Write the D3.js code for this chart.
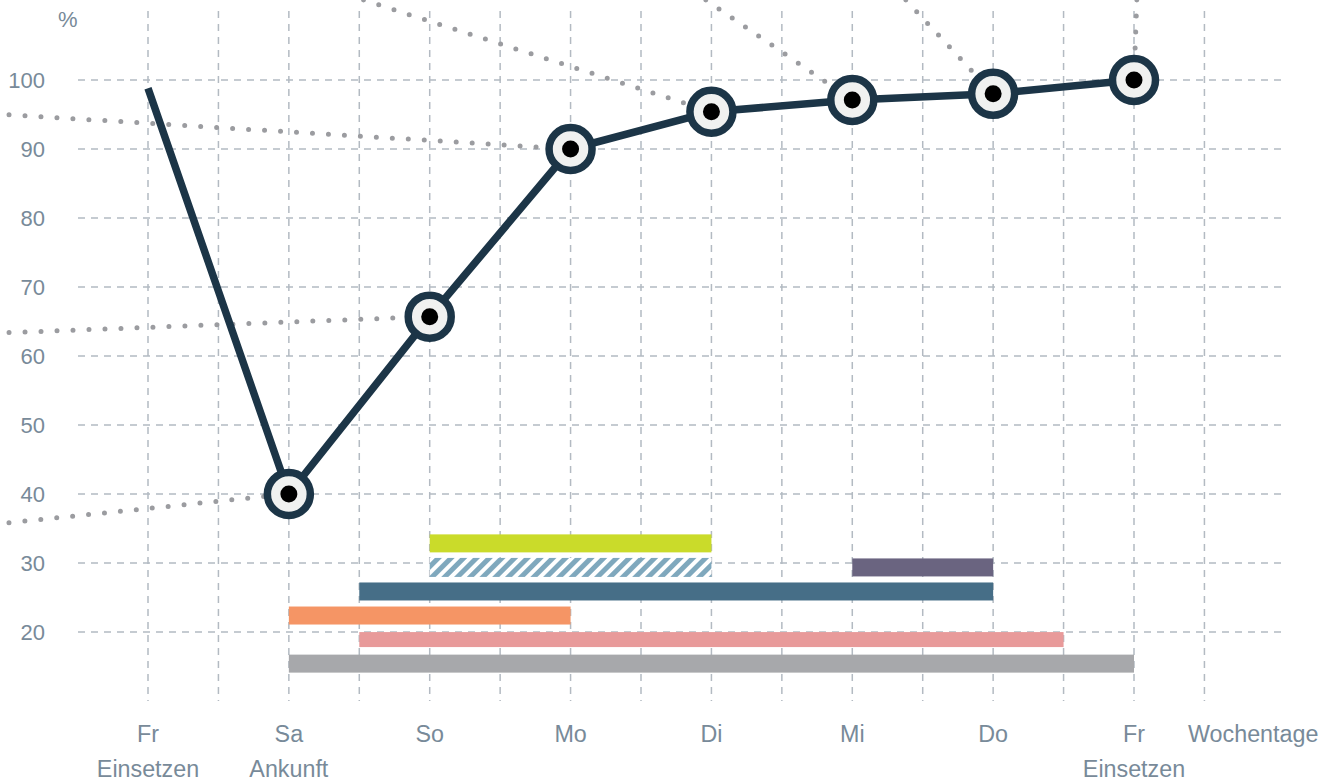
<!DOCTYPE html>
<html>
<head>
<meta charset="utf-8">
<script src="https://cdn.jsdelivr.net/npm/d3@7"></script>
<style>
    body { margin: 0; background: #fff; }
    text { font-family: "Liberation Sans", Arial, sans-serif; fill: #788a99; }
</style>
</head>
<body>
<script>
// days on the x axis and the percent reached on each day
const days = ["Fr", "Sa", "So", "Mo", "Di", "Mi", "Do", "Fr"];
const dayNotes = ["Einsetzen", "Ankunft", "", "", "", "", "", "Einsetzen"];
const percent = [98.8, 40, 65.7, 90, 95.4, 97.1, 98, 100];
const yTicks = [20, 30, 40, 50, 60, 70, 80, 90, 100];

// dotted trails that run into the markers (start day / start %, end at a marker)
const trailFromDay = [-1.1, -1.1, -1.1, 1.53, 3.96, 5.38, 7.02];
const trailFromPct = [35.6, 63.3, 95.1, 111.6, 111.6, 111.6, 111.6];
const trailToDay = [1, 2, 3, 4, 5, 6, 7];

// bars below the line (start day, end day, row)
const barStart = [2, 2, 5, 1.5, 1, 1.5, 1];
const barEnd = [4, 4, 6, 6, 3, 6.5, 7];
const barRow = [0, 1, 1, 2, 3, 4, 5];

document.addEventListener("DOMContentLoaded", () => {
    width = 1332;
    height = 781;

    svg = d3.select("body").append("svg").attr("width", width).attr("height", height);

    x = d3.scaleLinear().domain([0, 7]).range([148, 1134]);
    y = d3.scaleLinear().domain([10, 100]).range([701, 80]);
    row = d3.scaleBand().domain(d3.range(6)).range([534, 673]).paddingInner(0.22).paddingOuter(0);

    const gridColor = "#b3bac2";
    const barColors = ["#cadb2a", "url(#hatch)", "#6a6480", "#466e87", "#f59565", "#e89a9a", "#a7a8ab"];
    const barHeights = [18, 19, 18, 18, 18, 15, 18];

    // hatch pattern
    {
        let pat = svg.append("defs").append("pattern")
            .attr("id", "hatch")
            .attr("patternUnits", "userSpaceOnUse")
            .attr("width", 9)
            .attr("height", 9)
            .attr("patternTransform", "rotate(45)");
        pat.append("rect").attr("width", 9).attr("height", 9).attr("fill", "#fff");
        pat.append("rect").attr("width", 5).attr("height", 9).attr("fill", "#7fa8bd");
    }

    // grid
    {
        grid = svg.append("g").attr("class", "grid");
        grid.selectAll("line.h")
            .data(yTicks)
            .enter()
            .append("line")
            .attr("x1", 78)
            .attr("x2", 1284)
            .attr("y1", (d) => y(d))
            .attr("y2", (d) => y(d))
            .attr("stroke", gridColor)
            .attr("stroke-width", 1.5)
            .attr("stroke-dasharray", "7,6");
        grid.selectAll("line.v")
            .data(d3.range(0, 7.51, 0.5))
            .enter()
            .append("line")
            .attr("x1", (d) => x(d))
            .attr("x2", (d) => x(d))
            .attr("y1", 11)
            .attr("y2", 701)
            .attr("stroke", gridColor)
            .attr("stroke-width", 1.5)
            .attr("stroke-dasharray", "7,6");
    }

    // axis labels
    {
        let labels = svg.append("g").attr("class", "labels").attr("font-size", 22);
        labels.selectAll("text.y")
            .data(yTicks)
            .enter()
            .append("text")
            .attr("x", 45)
            .attr("y", (d) => y(d) + 8)
            .attr("text-anchor", "end")
            .text((d) => d);
        labels.append("text").attr("x", 58).attr("y", 27).text("%");

        let xl = labels.append("g").attr("font-size", 23.3);
        xl.selectAll("text.day")
            .data(days)
            .enter()
            .append("text")
            .attr("x", (d, i) => x(i))
            .attr("y", 742)
            .attr("text-anchor", "middle")
            .text((d) => d);
        xl.selectAll("text.note")
            .data(dayNotes)
            .enter()
            .append("text")
            .attr("x", (d, i) => x(i))
            .attr("y", 777)
            .attr("text-anchor", "middle")
            .text((d) => d);
        xl.append("text").attr("x", 1188).attr("y", 742).text("Wochentage");
    }

    // bars
    {
        svg.append("g").attr("class", "bars")
            .selectAll("rect")
            .data(barStart)
            .enter()
            .append("rect")
            .attr("x", (d) => x(d))
            .attr("width", (d, i) => x(barEnd[i]) - x(d))
            .attr("y", (d, i) => row(barRow[i]) + (row.bandwidth() - barHeights[i]) / 2)
            .attr("height", (d, i) => barHeights[i])
            .attr("fill", (d, i) => barColors[i]);
    }

    // dotted trails
    {
        svg.append("g").attr("class", "trails")
            .selectAll("line")
            .data(trailFromDay)
            .enter()
            .append("line")
            .attr("x1", (d) => x(d))
            .attr("y1", (d, i) => y(trailFromPct[i]))
            .attr("x2", (d, i) => x(trailToDay[i]))
            .attr("y2", (d, i) => y(percent[trailToDay[i]]))
            .attr("stroke", "#9b9ca0")
            .attr("stroke-width", 5)
            .attr("stroke-linecap", "round")
            .attr("stroke-dasharray", "0,16");
    }

    // main line + markers
    {
        const line = d3.line().x((d, i) => x(i)).y((d) => y(d));
        svg.append("path")
            .datum(percent)
            .attr("d", line)
            .attr("fill", "none")
            .attr("stroke", "#1c3547")
            .attr("stroke-width", 7.5)
            .attr("stroke-linejoin", "round");

        let markers = svg.append("g").attr("class", "markers")
            .selectAll("g")
            .data(percent.slice(1))
            .enter()
            .append("g")
            .attr("transform", (d, i) => `translate(${x(i + 1)},${y(d)})`);
        markers.append("circle").attr("r", 21.5).attr("fill", "#f0f1f0").attr("stroke", "#1c3547").attr("stroke-width", 7.5);
        markers.append("circle").attr("r", 8.5).attr("fill", "#000");
    }
});
</script>
</body>
</html>
